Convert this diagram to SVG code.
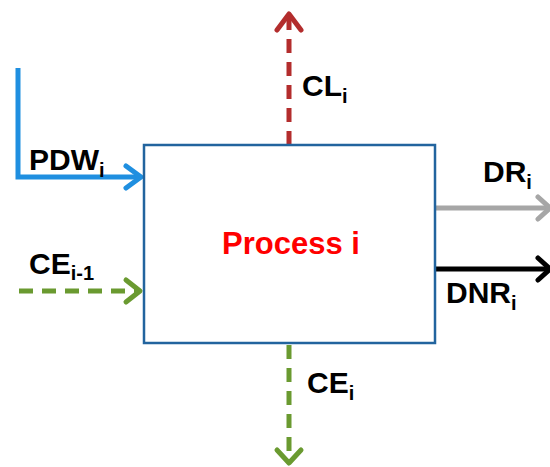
<svg xmlns="http://www.w3.org/2000/svg" width="550" height="467" viewBox="0 0 550 467">
<style>
.lbl{font-family:"Liberation Sans",Arial,sans-serif;font-weight:bold;font-size:30px;fill:#000}
.sub{font-size:20px}
.ln{fill:none;stroke-width:5}
.hd{fill:none;stroke-width:5;stroke-linecap:round;stroke-linejoin:round}
.dash{stroke-dasharray:14,9}
</style>
<rect width="550" height="467" fill="#fff"/>
<g id="connectors">
  <g id="pdw">
    <polyline class="ln" stroke="#1f8fe0" points="18,68 18,177 138,177"/>
    <polyline class="hd" stroke="#1f8fe0" points="126,166 141,177 126,188"/>
  </g>
  <g id="ce_prev">
    <line class="ln dash" stroke="#6a9a30" x1="19" y1="291" x2="136" y2="291"/>
    <polyline class="hd" stroke="#6a9a30" points="126,280 140,291 126,302"/>
  </g>
  <g id="cl">
    <line class="ln dash" stroke="#b32d2d" x1="289" y1="145" x2="289" y2="18"/>
    <polyline class="hd" stroke="#b32d2d" points="277,30 289,14 301,30"/>
  </g>
  <g id="ce">
    <line class="ln dash" stroke="#6a9a30" x1="289" y1="345" x2="289" y2="458"/>
    <polyline class="hd" stroke="#6a9a30" points="277,450 289,463 301,450"/>
  </g>
  <g id="dr">
    <line class="ln" stroke="#a6a6a6" x1="436" y1="208" x2="548" y2="208"/>
    <polyline class="hd" stroke="#a6a6a6" points="538,197 550,208 538,219"/>
  </g>
  <g id="dnr">
    <line class="ln" stroke="#000" x1="436" y1="269" x2="548" y2="269"/>
    <polyline class="hd" stroke="#000" points="538,258 550,269 538,280"/>
  </g>
</g>
<g id="process">
  <rect x="144" y="145" width="291" height="198" fill="#fff" stroke="#22649e" stroke-width="2.5"/>
  <text x="291" y="254" text-anchor="middle" class="lbl" style="font-size:31px;fill:#ff0000">Process i</text>
</g>
<g id="labels">
  <text class="lbl" x="29" y="170">PDW<tspan class="sub" dy="7">i</tspan></text>
  <text class="lbl" x="302" y="96">CL<tspan class="sub" dy="7">i</tspan></text>
  <text class="lbl" x="483" y="182">DR<tspan class="sub" dy="7">i</tspan></text>
  <text class="lbl" x="446" y="303">DNR<tspan class="sub" dy="7">i</tspan></text>
  <text class="lbl" x="29" y="274">CE<tspan class="sub" dy="6">i-1</tspan></text>
  <text class="lbl" x="307" y="393">CE<tspan class="sub" dy="7">i</tspan></text>
</g>
</svg>
